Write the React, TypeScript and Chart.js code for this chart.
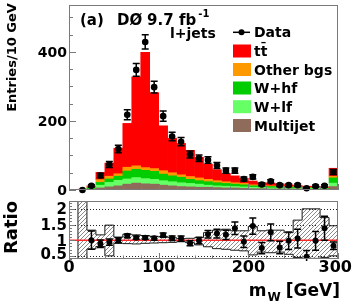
import React, { useEffect, useRef } from "react";
import { Chart, registerables } from "chart.js";

Chart.register(...registerables);

const FONT = "'DejaVu Sans', 'Liberation Sans', Arial, sans-serif";
const W = 354;
const H = 307;

// 10 GeV bins, lower edges (GeV)
const binLow = [0, 10, 20, 30, 40, 50, 60, 70, 80, 90, 100, 110, 120, 130, 140, 150, 160, 170, 180, 190, 200, 210, 220, 230, 240, 250, 260, 270, 280, 290];
const binWidth = 10;

// Data (entries / 10 GeV) and statistical errors
const dataCounts = [null, 0, 12, 42, 74, 119, 218, 348, 429, 298, 214, 155, 140, 103, 92, 87, 71, 56, 56, 32, 38, 16, 25, 14, 14, 14, 5, 11, 12, 52];
const dataErrors = [null, 0, 3.5, 6.5, 8.6, 10.9, 14.8, 18.7, 20.7, 17.3, 14.6, 12.4, 11.8, 10.1, 9.6, 9.3, 8.4, 7.5, 7.5, 5.7, 6.2, 4.0, 5.0, 3.7, 3.7, 3.7, 2.2, 3.3, 3.5, 7.2];

// Stacked predictions (per component, bottom to top)
const multijet = [null, 0.5, 1, 6, 9, 12, 17, 20, 18, 17, 14, 12, 10, 9, 8, 8, 7, 6, 6, 5, 4, 4, 3, 3, 3, 3, 2, 2, 2, 10];
const wlf = [null, 0.5, 2, 8, 13, 16, 15, 16, 15, 14, 13, 12, 11, 10, 9, 6, 5, 5, 4, 4, 4, 3, 3, 3, 2, 2, 2, 2, 1, 10];
const whf = [null, 0.5, 4, 8, 10, 12, 23, 24, 24, 23, 19, 17, 16, 12, 10, 10, 9, 8, 7, 6, 4, 4, 4, 3, 3, 2, 2, 2, 2, 15];
const otherBgs = [null, 0.5, 1, 8, 8, 7, 11, 10, 8, 8, 10, 9, 7, 8, 8, 7, 6, 5, 4, 4, 3, 2, 2, 2, 2, 2, 2, 1, 1, 5];
const ttbar = [null, 0.5, 4, 21, 38, 74, 127, 258, 334, 220, 130, 100, 91, 76, 60, 44, 32, 24, 20, 15, 11, 8, 8, 7, 5, 4, 3, 4, 3, 23];

// Ratio panel: data / prediction, its error, and the systematic band
const ratioVals = [null, null, 1.0, 0.89, 0.94, 1.0, 1.14, 1.08, 1.08, 1.06, 1.16, 1.06, 1.05, 0.90, 0.99, 1.19, 1.21, 1.17, 1.38, 0.95, 1.45, 0.75, 1.25, 0.77, 0.98, 1.05, 0.47, 0.98, 1.38, 0.82];
const ratioErrs = [null, null, 0.29, 0.12, 0.1, 0.08, 0.06, 0.05, 0.05, 0.06, 0.07, 0.07, 0.08, 0.08, 0.1, 0.12, 0.14, 0.15, 0.2, 0.18, 0.26, 0.18, 0.27, 0.2, 0.28, 0.3, 0.2, 0.3, 0.38, 0.12];
const bandLow = [null, 0.0, 0.72, 0.80, 0.50, 0.90, 0.89, 0.88, 0.90, 0.91, 0.92, 0.93, 0.95, 0.92, 0.85, 0.79, 0.73, 0.71, 0.68, 0.66, 0.53, 0.62, 0.60, 0.62, 0.55, 0.45, 0.42, 0.42, 0.45, 0.50];
const bandHigh = [null, 3.0, 1.32, 1.17, 1.48, 1.10, 1.19, 1.17, 1.15, 1.12, 1.12, 1.08, 1.05, 1.06, 1.08, 1.24, 1.32, 1.35, 1.30, 1.30, 1.44, 1.30, 1.32, 1.32, 1.24, 1.64, 2.0, 2.0, 1.72, 1.46];
const ratioRef = 1;

// Axis ticks / labels
const xTickLabels = [0, 100, 200, 300];
const upperYTickLabels = [0, 200, 400];
const ratioYTickLabels = [0.5, 1, 1.5, 2];
const ratioGridVals = [0.5, 1.5, 2];

const legendLabels = ["Data", "tt\u0304", "Other bgs", "W+hf", "W+lf", "Multijet"];
const COLORS = {
  ttbar: "#ff0000",
  other: "#ff9900",
  whf: "#00cc00",
  wlf: "#66ff66",
  mj: "#8f6b5b",
};
const legendColors = [null, COLORS.ttbar, COLORS.other, COLORS.whf, COLORS.wlf, COLORS.mj];

const centers = binLow.map((b) => b + binWidth / 2);
const pts = (vals: (number | null)[]) => centers.map((x, i) => ({ x, y: vals[i] }));

function stepPoints(vals: (number | null)[]) {
  const out: { x: number; y: number }[] = [];
  let last = -1;
  vals.forEach((v, i) => {
    if (v == null) return;
    if (last < 0) out.push({ x: binLow[i], y: ratioRef });
    out.push({ x: binLow[i], y: v });
    last = i;
  });
  out.push({ x: binLow[last] + binWidth, y: vals[last] as number });
  return out;
}

function makeErrorBars(dsIndex: number, values: (number | null)[], errors: (number | null)[], cap: number) {
  return {
    id: "errorBars" + dsIndex,
    afterDatasetsDraw(chart: any) {
      const { ctx, chartArea } = chart;
      const y = chart.scales.y;
      const meta = chart.getDatasetMeta(dsIndex);
      ctx.save();
      ctx.beginPath();
      ctx.rect(chartArea.left, chartArea.top - 2, chartArea.right - chartArea.left, chartArea.bottom - chartArea.top + 4);
      ctx.clip();
      ctx.strokeStyle = "#000";
      ctx.lineWidth = 1.5;
      ctx.beginPath();
      meta.data.forEach((pt: any, i: number) => {
        const v = values[i];
        const e = errors[i];
        if (v == null || !e) return;
        const x = pt.x;
        const y1 = y.getPixelForValue(v + e);
        const y2 = y.getPixelForValue(v - e);
        ctx.moveTo(x, y1);
        ctx.lineTo(x, y2);
        ctx.moveTo(x - cap, y1);
        ctx.lineTo(x + cap, y1);
        ctx.moveTo(x - cap, y2);
        ctx.lineTo(x + cap, y2);
      });
      ctx.stroke();
      ctx.restore();
    },
  };
}

function drawFrameAndTicks(chart: any, o: { yMajor: number; yMinor: number; yMajLen: number; yMinLen: number; xMajor: number; xMinor: number; xMajLen: number; xMinLen: number }) {
  const { ctx, chartArea } = chart;
  const { left, right, top, bottom } = chartArea;
  const xs = chart.scales.x;
  const ys = chart.scales.y;
  ctx.save();
  ctx.strokeStyle = "#7a7a7a";
  ctx.lineWidth = 1;
  ctx.strokeRect(Math.round(left) + 0.5, Math.round(top) + 0.5, Math.round(right - left) - 1, Math.round(bottom - top) - 1);
  ctx.beginPath();
  const eps = 1e-9;
  for (let k = Math.ceil(ys.min / o.yMinor - eps); k * o.yMinor <= ys.max + eps; k++) {
    const v = k * o.yMinor;
    const isMaj = Math.abs(v / o.yMajor - Math.round(v / o.yMajor)) < 1e-6;
    const py = Math.round(ys.getPixelForValue(v)) + 0.5;
    const len = isMaj ? o.yMajLen : o.yMinLen;
    ctx.moveTo(left, py);
    ctx.lineTo(left + len, py);
  }
  for (let k = Math.ceil(xs.min / o.xMinor - eps); k * o.xMinor <= xs.max + eps; k++) {
    const v = k * o.xMinor;
    const isMaj = Math.abs(v / o.xMajor - Math.round(v / o.xMajor)) < 1e-6;
    const px = Math.round(xs.getPixelForValue(v)) + 0.5;
    const len = isMaj ? o.xMajLen : o.xMinLen;
    ctx.moveTo(px, bottom);
    ctx.lineTo(px, bottom - len);
  }
  ctx.stroke();
  ctx.restore();
}

function makeHatch(): CanvasPattern | string {
  const c = document.createElement("canvas");
  c.width = 4;
  c.height = 4;
  const g = c.getContext("2d");
  if (!g) return "rgba(150,150,150,0.4)";
  g.strokeStyle = "#8a8a8a";
  g.lineWidth = 1;
  g.beginPath();
  g.moveTo(0, 4);
  g.lineTo(4, 0);
  g.moveTo(-1, 1);
  g.lineTo(1, -1);
  g.moveTo(3, 5);
  g.lineTo(5, 3);
  g.stroke();
  return g.createPattern(c, "repeat") || "rgba(150,150,150,0.4)";
}

const upperDecor = {
  id: "upperDecor",
  afterDraw(chart: any) {
    const { ctx } = chart;
    drawFrameAndTicks(chart, { yMajor: 200, yMinor: 50, yMajLen: 7, yMinLen: 4, xMajor: 100, xMinor: 20, xMajLen: 6, xMinLen: 3.5 });
    const ys = chart.scales.y;
    ctx.save();
    ctx.fillStyle = "#000";
    // y tick labels
    ctx.font = `bold 14px ${FONT}`;
    ctx.textAlign = "right";
    ctx.textBaseline = "alphabetic";
    upperYTickLabels.forEach((v) => {
      ctx.fillText(String(v), 67, ys.getPixelForValue(v) + 5);
    });
    // y title
    ctx.save();
    ctx.translate(15.5, 57.5);
    ctx.rotate(-Math.PI / 2);
    ctx.textAlign = "center";
    ctx.font = `bold 13px ${FONT}`;
    ctx.fillText("Entries/10 GeV", 0, 0);
    ctx.restore();
    // title
    ctx.textAlign = "left";
    ctx.font = `bold 15px ${FONT}`;
    ctx.fillText("(a)", 80, 25);
    ctx.fillText("D\u00d8", 117, 25);
    ctx.fillText("9.7", 147, 25);
    ctx.fillText("fb", 179, 25);
    const fbw = ctx.measureText("fb").width;
    ctx.font = `bold 10px ${FONT}`;
    ctx.fillText("-1", 179 + fbw + 2, 17);
    ctx.font = `bold 14px ${FONT}`;
    ctx.fillText("l+jets", 170, 38);
    // legend
    const rows = [32.3, 51, 69.5, 88, 106.7, 125.5];
    legendLabels.forEach((lab, i) => {
      const ry = rows[i];
      const col = legendColors[i];
      if (col) {
        ctx.fillStyle = col;
        ctx.fillRect(233, ry - 6.5, 18, 13);
      } else {
        ctx.strokeStyle = "#000";
        ctx.lineWidth = 1.5;
        ctx.beginPath();
        ctx.moveTo(233, ry);
        ctx.lineTo(250, ry);
        ctx.stroke();
        ctx.fillStyle = "#000";
        ctx.beginPath();
        ctx.arc(241.5, ry, 3, 0, Math.PI * 2);
        ctx.fill();
      }
      ctx.fillStyle = "#000";
      ctx.font = `bold 14px ${FONT}`;
      ctx.fillText(lab, 254, ry + 5);
    });
    ctx.restore();
  },
};

const lowerDecor = {
  id: "lowerDecor",
  beforeDraw(chart: any) {
    const { ctx, chartArea } = chart;
    const ys = chart.scales.y;
    ctx.save();
    ctx.strokeStyle = "#222";
    ctx.lineWidth = 1;
    ctx.setLineDash([1, 2]);
    ctx.beginPath();
    ratioGridVals.forEach((v) => {
      const py = Math.round(ys.getPixelForValue(v)) + 0.5;
      ctx.moveTo(chartArea.left, py);
      ctx.lineTo(chartArea.right, py);
    });
    ctx.stroke();
    ctx.restore();
  },
  afterDraw(chart: any) {
    const { ctx } = chart;
    drawFrameAndTicks(chart, { yMajor: 0.5, yMinor: 0.1, yMajLen: 6, yMinLen: 3, xMajor: 100, xMinor: 20, xMajLen: 6, xMinLen: 3.5 });
    const xs = chart.scales.x;
    const ys = chart.scales.y;
    ctx.save();
    ctx.fillStyle = "#000";
    ctx.font = `bold 15px ${FONT}`;
    ctx.textAlign = "right";
    ratioYTickLabels.forEach((v) => {
      const by = Math.min(ys.getPixelForValue(v) + 5.5, 259);
      ctx.fillText(String(v), 67, by);
    });
    ctx.font = `bold 16px ${FONT}`;
    ctx.textAlign = "center";
    xTickLabels.forEach((v) => {
      const s = String(v);
      const w = ctx.measureText(s).width;
      let cx = xs.getPixelForValue(v);
      if (cx + w / 2 > W - 2) cx = W - 2 - w / 2;
      ctx.fillText(s, cx, 272);
    });
    // y title
    ctx.save();
    ctx.translate(17, 227.5);
    ctx.rotate(-Math.PI / 2);
    ctx.textAlign = "center";
    ctx.font = `bold 18px ${FONT}`;
    ctx.fillText("Ratio", 0, 0);
    ctx.restore();
    // x title: m_W [GeV]
    ctx.textAlign = "left";
    ctx.font = `bold 17px ${FONT}`;
    const gev = "[GeV]";
    const gw = ctx.measureText(gev).width;
    const gx = 340 - gw;
    ctx.fillText(gev, gx, 296);
    ctx.font = `bold 12px ${FONT}`;
    const ww = ctx.measureText("W").width;
    const wx = gx - 5 - ww;
    ctx.fillText("W", wx, 301);
    ctx.font = `bold 17px ${FONT}`;
    const mw = ctx.measureText("m").width;
    ctx.fillText("m", wx - 1 - mw, 296);
    ctx.restore();
  },
};

function bar(label: string, vals: (number | null)[], color: string) {
  return {
    type: "bar" as const,
    label,
    data: pts(vals),
    backgroundColor: color,
    borderWidth: 0,
    barPercentage: 1,
    categoryPercentage: 1,
  };
}

export default function App() {
  const topRef = useRef<HTMLCanvasElement>(null);
  const botRef = useRef<HTMLCanvasElement>(null);

  useEffect(() => {
    if (!topRef.current || !botRef.current) return;
    const charts: Chart[] = [];

    charts.push(
      new Chart(topRef.current, {
        type: "bar",
        data: {
          datasets: [
            {
              type: "scatter",
              label: "Data",
              data: pts(dataCounts),
              pointRadius: 3.3,
              pointBackgroundColor: "#000",
              pointBorderWidth: 0,
              showLine: false,
              clip: false,
            } as any,
            bar("Multijet", multijet, COLORS.mj),
            bar("W+lf", wlf, COLORS.wlf),
            bar("W+hf", whf, COLORS.whf),
            bar("Other bgs", otherBgs, COLORS.other),
            bar("tt\u0304", ttbar, COLORS.ttbar),
          ],
        },
        options: {
          responsive: false,
          animation: false,
          devicePixelRatio: 1,
          events: [],
          layout: { padding: { left: 69, right: 16, top: 5, bottom: 117 } },
          scales: {
            x: { type: "linear", min: 0, max: 300, display: false, stacked: true, offset: false },
            y: { type: "linear", min: 0, max: 536, display: false, stacked: true },
          },
          plugins: { legend: { display: false }, tooltip: { enabled: false } },
        } as any,
        plugins: [makeErrorBars(0, dataCounts, dataErrors, 3.5), upperDecor],
      })
    );

    const hatch = makeHatch();
    const bandRanges = centers.map((x, i) => ({
      x,
      y: bandLow[i] == null || bandHigh[i] == null ? null : [bandLow[i], bandHigh[i]],
    }));
    charts.push(
      new Chart(botRef.current, {
        type: "scatter",
        data: {
          datasets: [
            {
              type: "scatter",
              label: "Ratio",
              data: pts(ratioVals),
              pointRadius: 3,
              pointBackgroundColor: "#000",
              pointBorderWidth: 0,
              showLine: false,
            } as any,
            {
              type: "line",
              label: "ref",
              data: [
                { x: 0, y: ratioRef },
                { x: 300, y: ratioRef },
              ],
              borderColor: "#ff2a2a",
              borderWidth: 1.6,
              pointRadius: 0,
              fill: false,
            },
            {
              type: "line",
              label: "band high",
              data: stepPoints(bandHigh),
              stepped: "before",
              borderColor: "#1a1a1a",
              borderWidth: 1,
              pointRadius: 0,
              fill: false,
            },
            {
              type: "line",
              label: "band low",
              data: stepPoints(bandLow),
              stepped: "before",
              borderColor: "#1a1a1a",
              borderWidth: 1,
              pointRadius: 0,
              fill: false,
            },
            {
              type: "bar",
              label: "band",
              data: bandRanges,
              backgroundColor: hatch,
              borderWidth: 0,
              barPercentage: 1,
              categoryPercentage: 1,
              inflateAmount: 0,
            } as any,
          ],
        },
        options: {
          responsive: false,
          animation: false,
          devicePixelRatio: 1,
          events: [],
          layout: { padding: { left: 69, right: 16, top: 201, bottom: 48 } },
          scales: {
            x: { type: "linear", min: 0, max: 300, display: false, offset: false },
            y: { type: "linear", min: 0.4, max: 2.25, display: false },
          },
          plugins: {
            legend: { display: false },
            tooltip: { enabled: false },
          },
        } as any,
        plugins: [makeErrorBars(0, ratioVals, ratioErrs, 3.5), lowerDecor],
      })
    );

    return () => charts.forEach((c) => c.destroy());
  }, []);

  return (
    <div style={{ position: "absolute", left: 0, top: 0, width: W, height: H, background: "#fff" }}>
      <canvas ref={topRef} width={W} height={H} style={{ position: "absolute", left: 0, top: 0 }} />
      <canvas ref={botRef} width={W} height={H} style={{ position: "absolute", left: 0, top: 0 }} />
    </div>
  );
}
